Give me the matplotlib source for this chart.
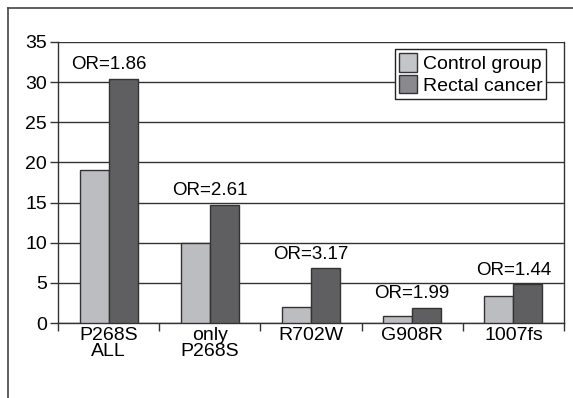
import matplotlib
matplotlib.use("Agg")
import matplotlib.pyplot as plt
from matplotlib.lines import Line2D
from matplotlib.patches import Patch
import numpy as np

categories = ["P268S\nALL", "only\nP268S", "R702W", "G908R", "1007fs"]
control = [19, 10, 2, 0.9, 3.4]
rectal = [30.4, 14.7, 6.8, 1.9, 4.85]
or_labels = ["OR=1.86", "OR=2.61", "OR=3.17", "OR=1.99", "OR=1.44"]

plt.rcParams['font.family'] = ['Liberation Sans', 'DejaVu Sans']
plt.rcParams['font.size'] = 13.5

fig = plt.figure(figsize=(5.73, 3.98), dpi=100)
ax = fig.add_axes([58 / 573, 1 - 323 / 398, (564 - 58) / 573, (323 - 42) / 398])

# outer frame (left and top edges)
fig.add_artist(Line2D([8 / 573, 8 / 573], [0, 1 - 8 / 398], transform=fig.transFigure,
                      color="#444444", lw=1.2))
fig.add_artist(Line2D([8 / 573, 1], [1 - 8 / 398, 1 - 8 / 398], transform=fig.transFigure,
                      color="#444444", lw=1.2))

x = np.arange(len(categories)) + 0.5
w = 0.287
ax.bar(x - w / 2, control, w, color="#bcbdc1", edgecolor="#333333", lw=1, zorder=3)
ax.bar(x + w / 2, rectal, w, color="#5f5f61", edgecolor="#333333", lw=1, zorder=3)

for xi, r, lab in zip(x, rectal, or_labels):
    ax.annotate(lab, (xi, r), xytext=(0, 4), textcoords="offset points",
                ha="center", va="bottom")

ax.set_xlim(0, len(categories))
ax.set_ylim(0, 35)
ax.set_yticks(range(0, 36, 5))
ax.yaxis.grid(True, color="#333333", lw=1)
ax.set_axisbelow(True)
ax.set_xticks(np.arange(len(categories) + 1))
ax.set_xticklabels([])
ax.set_xticks(x, minor=True)
ax.set_xticklabels(categories, minor=True, linespacing=0.9)
ax.tick_params(axis="x", which="minor", length=0, pad=3, labelsize=14)
ax.tick_params(axis="x", which="major", length=6, width=1, color="#333333")
ax.tick_params(axis="y", length=6, width=1, color="#333333", pad=2, labelsize=14)
for s in ax.spines.values():
    s.set_color("#333333")
    s.set_linewidth(1)
ax.spines["top"].set_visible(False)

handles = [Patch(facecolor="#c4c5c9", edgecolor="#333333", label="Control group"),
           Patch(facecolor="#8a8a8e", edgecolor="#333333", label="Rectal cancer")]
leg = ax.legend(handles=handles, loc="upper right", bbox_to_anchor=(0.965, 0.975),
                fancybox=False, framealpha=1, edgecolor="#222222", fontsize=14,
                handlelength=0.9, handleheight=1.1, handletextpad=0.3,
                borderpad=0.2, labelspacing=0.1, borderaxespad=0)
leg.get_frame().set_linewidth(1)

fig.savefig("out.png", dpi=100)
